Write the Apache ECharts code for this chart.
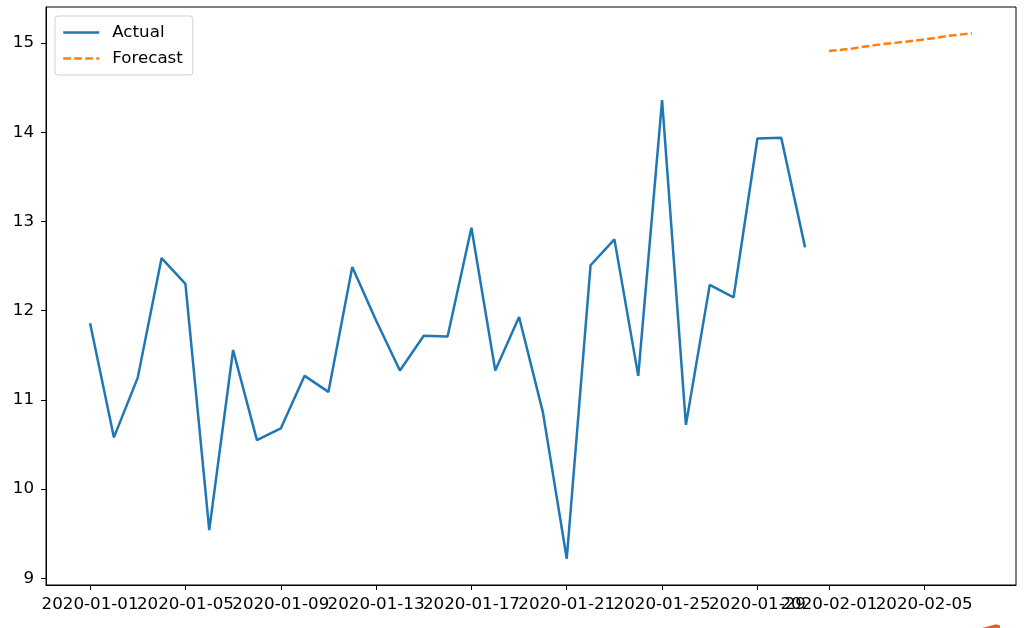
<!DOCTYPE html>
<html>
<head>
<meta charset="utf-8">
<script src="https://cdn.jsdelivr.net/npm/echarts@6/dist/echarts.min.js"></script>
<style>
html,body{margin:0;padding:0;background:#fff;}
#chart{width:1026px;height:628px;}
</style>
</head>
<body>
<div id="chart"></div>
<script>
const actualDates = ['2020-01-01','2020-01-02','2020-01-03','2020-01-04','2020-01-05','2020-01-06','2020-01-07','2020-01-08','2020-01-09','2020-01-10','2020-01-11','2020-01-12','2020-01-13','2020-01-14','2020-01-15','2020-01-16','2020-01-17','2020-01-18','2020-01-19','2020-01-20','2020-01-21','2020-01-22','2020-01-23','2020-01-24','2020-01-25','2020-01-26','2020-01-27','2020-01-28','2020-01-29','2020-01-30','2020-01-31'];
const actualValues = [11.86,10.58,11.25,12.59,12.30,9.54,11.56,10.55,10.68,11.27,11.09,12.49,11.89,11.33,11.72,11.71,12.93,11.33,11.93,10.86,9.22,12.51,12.80,11.27,14.36,10.72,12.29,12.15,13.93,13.94,12.71];
const forecastDates = ['2020-02-01','2020-02-02','2020-02-03','2020-02-04','2020-02-05','2020-02-06','2020-02-07'];
const forecastValues = [14.91,14.94,14.98,15.01,15.04,15.08,15.11];
const xTickLabels = ['2020-01-01','2020-01-05','2020-01-09','2020-01-13','2020-01-17','2020-01-21','2020-01-25','2020-01-29','2020-02-01','2020-02-05'];
const yTickLabels = [9,10,11,12,13,14,15];

const DAY = 86400000;
function ts(s){ const p = s.split('-'); return Date.UTC(+p[0], +p[1]-1, +p[2]); }
const origin = ts(actualDates[0]);
function dayOf(s){ return Math.round((ts(s) - origin) / DAY); }

const allX = actualDates.concat(forecastDates).map(dayOf);
const xLo = Math.min(...allX), xHi = Math.max(...allX);
const xPad = (xHi - xLo) * 0.05;
const allY = actualValues.concat(forecastValues);
const yLo = Math.min(...allY), yHi = Math.max(...allY);
const yPad = (yHi - yLo) * 0.05;
const xTickVals = xTickLabels.map(dayOf);
const labelMap = {};
xTickLabels.forEach((l, i) => { labelMap[xTickVals[i]] = l; });
// labels split over two overlaid bottom axes so that neighbouring (overlapping) labels are all kept
const xLabelsA = xTickVals.filter((v, i) => i % 2 === 0);
const xLabelsB = xTickVals.filter((v, i) => i % 2 === 1);

const FONT = 'DejaVu Sans';
const FS = 16.7;
const LW = 2.5;
function xAxisDef(labelVals, main) {
  return {
    type: 'value', position: 'bottom', offset: 0,
    min: xLo - xPad, max: xHi + xPad,
    axisLine: {show: main, onZero: false, lineStyle: {color: '#000', width: 1}},
    axisTick: {show: main, customValues: xTickVals, length: 5, lineStyle: {color: '#000'}},
    axisLabel: {customValues: labelVals, margin: 11, fontFamily: FONT, fontSize: FS, color: '#000',
      formatter: v => labelMap[Math.round(v)] || '', hideOverlap: false},
    splitLine: {show: false}
  };
}
const chart = echarts.init(document.getElementById('chart'), null, {renderer: 'canvas'});
chart.setOption({
  animation: false,
  backgroundColor: '#fff',
  grid: {left: 46, right: 10, top: 7, bottom: 43, show: true, borderColor: '#000', borderWidth: 1, containLabel: false},
  legend: {
    orient: 'vertical', left: 55, top: 16,
    padding: [8, 10, 8, 7],
    itemWidth: 36, itemHeight: 16, itemGap: 9,
    borderColor: '#d0d0d0', borderWidth: 1, borderRadius: 3,
    backgroundColor: 'rgba(255,255,255,0.8)',
    itemStyle: {opacity: 0},
    lineStyle: {width: LW},
    textStyle: {fontFamily: FONT, fontSize: FS, color: '#000', padding: [0, 0, 0, 8]},
    data: ['Actual', 'Forecast']
  },
  xAxis: [xAxisDef(xLabelsA, true), xAxisDef(xLabelsB, false)],
  yAxis: {
    type: 'value',
    min: yLo - yPad, max: yHi + yPad,
    axisLine: {show: true, onZero: false, lineStyle: {color: '#000', width: 1}},
    axisTick: {show: true, customValues: yTickLabels, length: 5, lineStyle: {color: '#000'}},
    axisLabel: {customValues: yTickLabels, margin: 12, fontFamily: FONT, fontSize: FS, color: '#000', showMinLabel: true, showMaxLabel: true},
    splitLine: {show: false}
  },
  series: [
    {
      name: 'Actual', type: 'line', symbol: 'none', xAxisIndex: 0,
      data: actualDates.map((d, i) => [dayOf(d), actualValues[i]]),
      lineStyle: {color: '#1f77b4', width: LW},
      itemStyle: {color: '#1f77b4'}
    },
    {
      name: 'Forecast', type: 'line', symbol: 'none', xAxisIndex: 0,
      data: forecastDates.map((d, i) => [dayOf(d), forecastValues[i]]),
      lineStyle: {color: '#ff7f0e', width: LW, type: [7.7, 3.3]},
      itemStyle: {color: '#ff7f0e'}
    }
  ],
  graphic: [{
    type: 'polygon', silent: true,
    shape: {points: [[982, 628], [996, 624.3], [1000, 625.5], [1000, 628]]},
    style: {fill: '#f05a28'}
  }]
});
</script>
</body>
</html>
